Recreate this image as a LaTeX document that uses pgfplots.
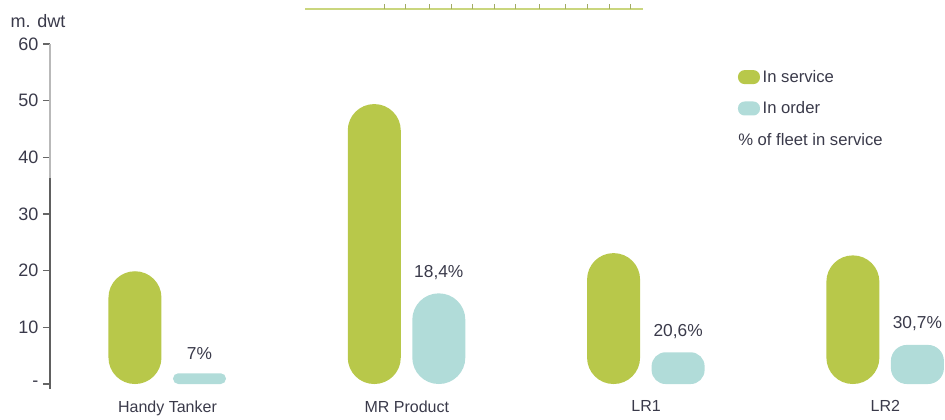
\documentclass[border=0pt]{standalone}
\usepackage{fontspec}
\setmainfont{Liberation Sans}
\usepackage{pgfplots}
\pgfplotsset{compat=1.18}
\definecolor{FleetGreen}{HTML}{B8C84A}
\definecolor{OrderTeal}{HTML}{B1DCD9}
\definecolor{InkGray}{HTML}{3A3A4A}
\definecolor{RulerGreen}{HTML}{CAD67E}

% one addplot per bar so each pill gets its own corner radius
\pgfplotsset{
  service/.style={ybar, bar width=39.75pt, bar shift=-24.4pt, fill=FleetGreen, draw=none,
    rounded corners=#1,
    legend image code/.code={\fill[FleetGreen, rounded corners=5pt] (0pt,-5.25pt) rectangle (16.5pt,5.25pt);}},
  order/.style={ybar, bar width=39.75pt, bar shift=24pt, fill=OrderTeal, draw=none,
    rounded corners=#1,
    point meta=explicit symbolic, nodes near coords,
    every node near coord/.append style={font=\fontsize{13}{15}\selectfont, text=InkGray, xshift=24pt, yshift=7pt},
    legend image code/.code={\fill[OrderTeal, rounded corners=5pt] (0pt,-5.25pt) rectangle (16.5pt,5.25pt);}},
}

\begin{document}
\begin{tikzpicture}
\path[use as bounding box] (-37.5pt,-22.5pt) rectangle (671.25pt,291.75pt);
\begin{axis}[
  at={(0pt,0pt)}, anchor=south west,
  scale only axis,
  width=671.25pt, height=258.75pt,
  xmin=-0.491, xmax=3.249,
  ymin=-0.88, ymax=60,
  clip=false,
  axis y line*=left,
  axis x line*=bottom,
  x axis line style={draw=none},
  y axis line style={draw=none},
  xtick={0,1,2,3},
  xticklabels={Handy Tanker, MR Product, LR1, LR2},
  xtick style={draw=none},
  ytick={0,10,20,30,40,50,60},
  yticklabels={-,10,20,30,40,50,60},
  tick align=outside,
  major tick length=5.25pt,
  ytick style={draw=gray!80!black, line width=0.8pt},
  yticklabel style={font=\fontsize{13.5}{15}\selectfont, text=InkGray},
  xticklabel style={font=\fontsize{12}{14}\selectfont, text=InkGray},
  legend style={at={(rel axis cs:0.7684,0.933)}, anchor=north west, draw=none, fill=none,
    inner sep=0pt, font=\fontsize{12.5}{14}\selectfont, text=InkGray, row sep=9pt},
  legend cell align=left,
]
\addplot[service=19.8pt] coordinates {(0,19.9)};
\addlegendentry{In service}
\addplot[order=4pt] coordinates {(0,1.9) [7\%]};
\addlegendentry{In order}
\addplot[service=19.8pt, forget plot] coordinates {(1,49.4)};
\addplot[order=19.8pt, forget plot] coordinates {(1,16.0) [18,4\%]};
\addplot[service=19.8pt, forget plot] coordinates {(2,23.1)};
\addplot[order=10.5pt, forget plot] coordinates {(2,5.6) [20,6\%]};
\addplot[service=19.8pt, forget plot] coordinates {(3,22.7)};
\addplot[order=12pt, forget plot] coordinates {(3,6.9) [30,7\%]};
\end{axis}
% y axis line, lighter in its upper part as in the source
\draw[line width=1.1pt, color=gray!75!black] (0pt,0pt) -- (0pt,158.25pt);
\draw[line width=1.1pt, color=gray!55] (0pt,158.25pt) -- (0pt,258.75pt);
\node[font=\fontsize{13.5}{15}\selectfont, text=InkGray] at (-9pt,276pt) {m. dwt};
\node[anchor=west, inner sep=0pt, font=\fontsize{12.5}{14}\selectfont, text=InkGray] at (516pt,186.75pt) {\% of fleet in service};
% decorative ruler at the top
\draw[RulerGreen, line width=1.2pt] (191.25pt,285pt) -- (444.75pt,285pt);
\foreach \tx in {250.5,266.25,284.25,300.75,316.5,333,348.75,366.75,386.25,402.75,419.25,435}
  \draw[RulerGreen!80!black, line width=0.7pt] (\tx pt,285pt) -- (\tx pt,289pt);
\end{tikzpicture}
\end{document}
